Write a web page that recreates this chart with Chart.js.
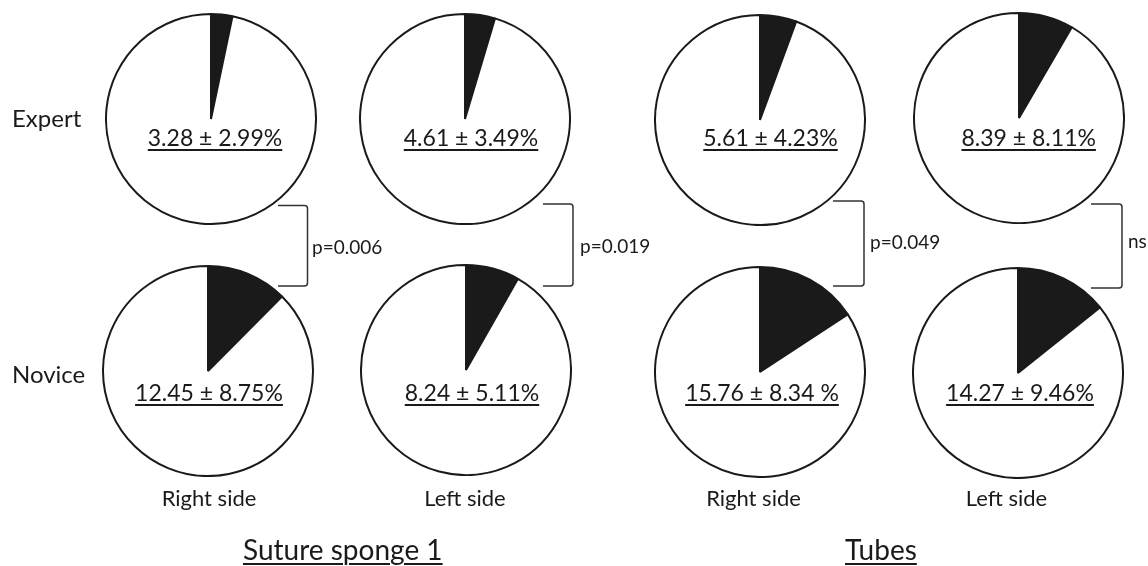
<!DOCTYPE html>
<html><head><meta charset="utf-8">
<script src="https://cdn.jsdelivr.net/npm/chart.js@4"></script>
<style>
html,body{margin:0;padding:0;background:#fff;}
#stage{position:relative;width:1148px;height:566px;overflow:hidden;font-family:Lato,"Open Sans",sans-serif;color:#1a1a1a;}
canvas.pie{position:absolute;}
.t{position:absolute;white-space:nowrap;z-index:5;}
.u{text-decoration:underline;text-decoration-thickness:2px;text-underline-offset:3px;}
svg{position:absolute;left:0;top:0;z-index:4;}
</style></head><body><div id="stage"><svg id="br" width="1148" height="566"></svg></div>
<script>
// ---- data ----
const groups = ["Suture sponge 1", "Tubes"];
const sides = ["Right side", "Left side", "Right side", "Left side"];
const levels = ["Expert", "Novice"];
const expertMeans = [3.28, 4.61, 5.61, 8.39];
const noviceMeans = [12.45, 8.24, 15.76, 14.27];
const expertLabels = ["3.28 \u00b1 2.99%", "4.61 \u00b1 3.49%", "5.61 \u00b1 4.23%", "8.39 \u00b1 8.11%"];
const noviceLabels = ["12.45 \u00b1 8.75%", "8.24 \u00b1 5.11%", "15.76 \u00b1 8.34 %", "14.27 \u00b1 9.46%"];
const pValues = ["p=0.006", "p=0.019", "p=0.049", "ns"];

// ---- layout ----
const R = 106;
const expertCenters = [[210.5,118.5],[465,118.5],[760,119.5],[1019,118]];
const noviceCenters = [[208,370.5],[465.5,370],[760,372],[1018,373]];
const expertLabelX = [215, 471, 770.5, 1028.7];
const noviceLabelX = [209, 472, 762, 1020];
const sideLabelX = [209, 465, 753.5, 1006.5];
const brackets = [[278,307.5,205.5,286],[543,573,204,286],[833,864,201,286],[1091,1122,204,288]];
const pPos = [[312,254],[580,252.7],[870,248.5],[1128,247.7]];

const stage = document.getElementById('stage');
const INK = '#1a1a1a';

function makePie(value, c) {
  const cv = document.createElement('canvas');
  cv.className = 'pie';
  cv.width = 2 * R; cv.height = 2 * R;
  cv.style.left = (c[0] - R) + 'px';
  cv.style.top = (c[1] - R) + 'px';
  stage.appendChild(cv);
  new Chart(cv, {
    type: 'pie',
    data: {
      labels: ['Value', 'Rest'],
      datasets: [{
        data: [value, 100 - value],
        backgroundColor: [INK, '#ffffff'],
        borderColor: INK,
        borderWidth: 2
      }]
    },
    options: {
      responsive: false,
      animation: false,
      events: [],
      layout: { padding: 0 },
      plugins: { legend: { display: false }, tooltip: { enabled: false } }
    }
  });
}

function addText(str, x, baseline, size, align, cls) {
  const d = document.createElement('div');
  d.className = 't' + (cls ? ' ' + cls : '');
  d.textContent = str;
  d.style.fontSize = size + 'px';
  d.style.lineHeight = size + 'px';
  d.style.top = (baseline - 0.887 * size) + 'px';
  d.style.left = x + 'px';
  if (align === 'center') d.style.transform = 'translateX(-50%)';
  stage.appendChild(d);
}

expertMeans.forEach((v, i) => makePie(v, expertCenters[i]));
noviceMeans.forEach((v, i) => makePie(v, noviceCenters[i]));

expertLabels.forEach((s, i) => addText(s, expertLabelX[i], 146.5, 23, 'center', 'u'));
noviceLabels.forEach((s, i) => addText(s, noviceLabelX[i], 401, 23, 'center', 'u'));
sides.forEach((s, i) => addText(s, sideLabelX[i], 506.5, 22, 'center'));
addText(levels[0], 12, 127, 24, 'left');
addText(levels[1], 12, 383, 24, 'left');
addText(groups[0], 243, 560, 28, 'left', 'u');
addText(groups[1], 845, 560, 28, 'left', 'u');
pValues.forEach((s, i) => addText(s, pPos[i][0], pPos[i][1], 19, 'left'));

const svg = document.getElementById('br');
brackets.forEach(b => {
  const [x0, x1, y0, y1] = b;
  const p = document.createElementNS('http://www.w3.org/2000/svg', 'path');
  p.setAttribute('d', `M${x0} ${y0} L${x1-3} ${y0} Q${x1} ${y0} ${x1} ${y0+3} L${x1} ${y1-3} Q${x1} ${y1} ${x1-3} ${y1} L${x0} ${y1}`);
  p.setAttribute('fill', 'none');
  p.setAttribute('stroke', '#333');
  p.setAttribute('stroke-width', '1.5');
  svg.appendChild(p);
});
</script></body></html>
